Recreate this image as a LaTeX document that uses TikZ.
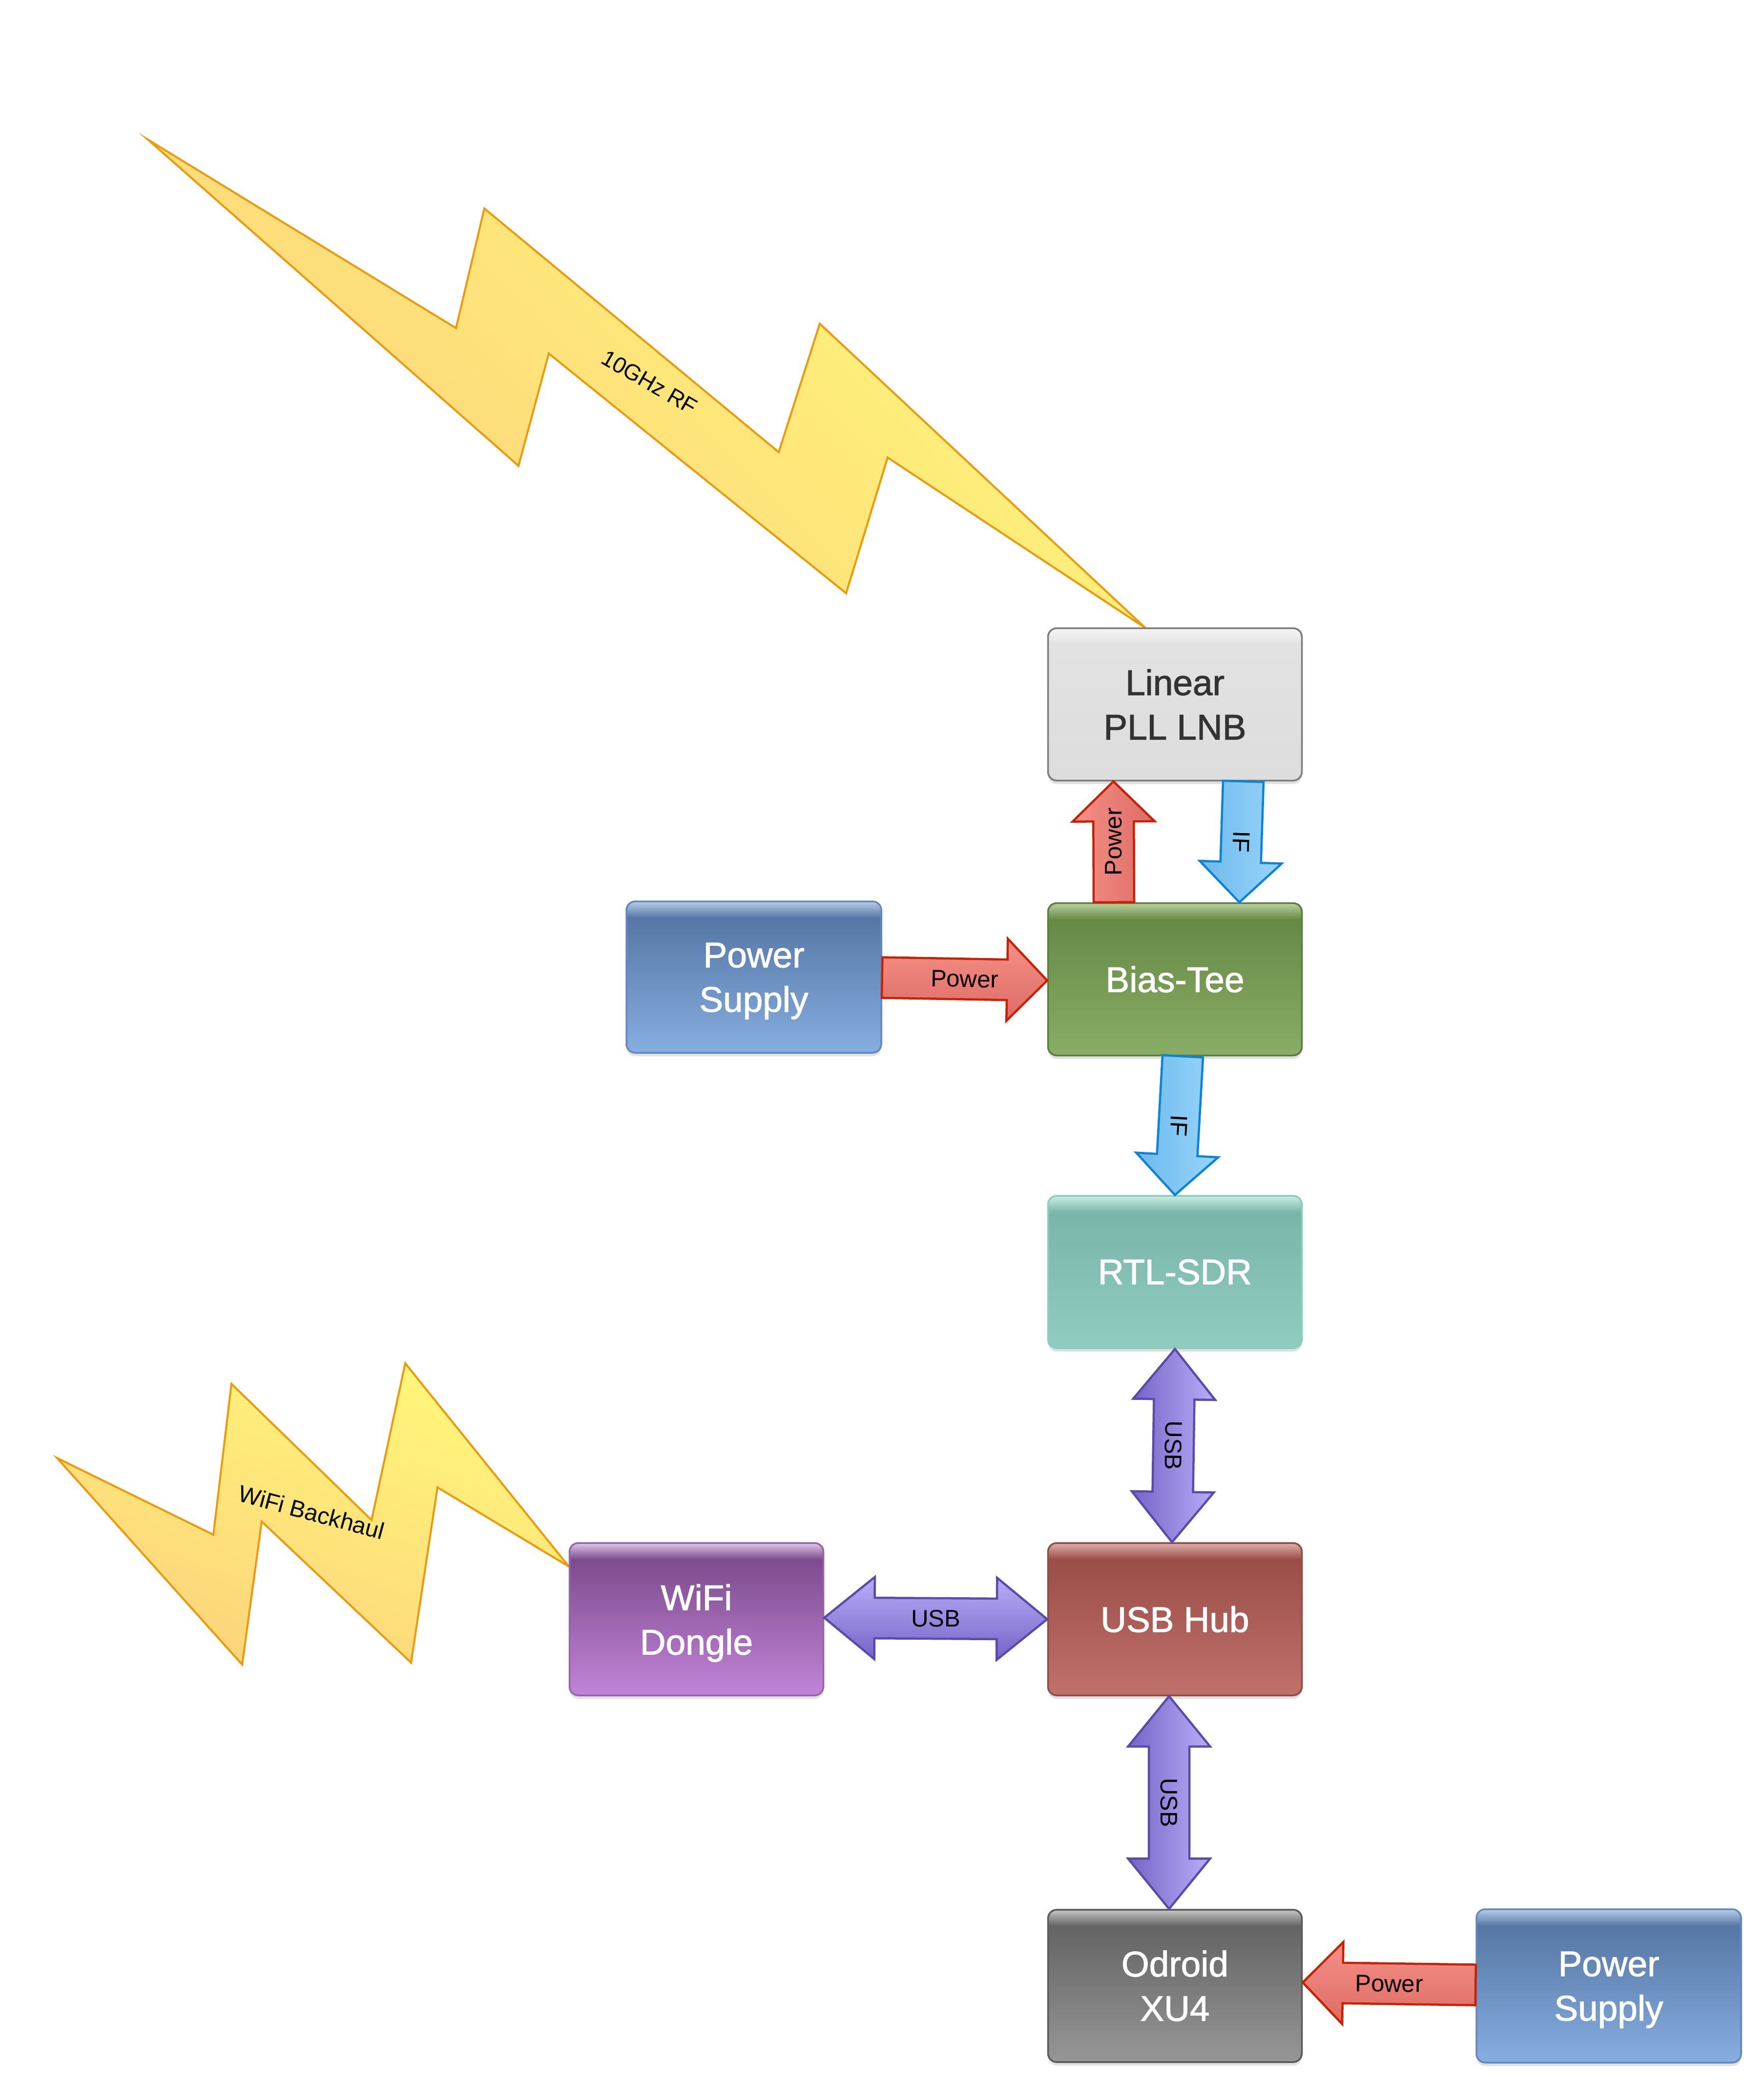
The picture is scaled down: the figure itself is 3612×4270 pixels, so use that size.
\documentclass[tikz,border=0pt]{standalone}
\usepackage{fontspec}
\setmainfont{Liberation Sans}
\newfontfamily\medfam{Liberation Sans}[FakeBold=1.5]
\usetikzlibrary{calc,shadows}

% box colours: bottom, top, gloss, border
\definecolor{lnbB}{HTML}{DDDDDD}\definecolor{lnbT}{HTML}{E2E2E2}\definecolor{lnbG}{HTML}{F5F5F5}\definecolor{lnbD}{HTML}{7B7B7B}\definecolor{lnbX}{HTML}{333333}
\definecolor{biaB}{HTML}{89AD66}\definecolor{biaT}{HTML}{668A45}\definecolor{biaG}{HTML}{BAD2A3}\definecolor{biaD}{HTML}{5C7C40}
\definecolor{psuB}{HTML}{86AEE0}\definecolor{psuT}{HTML}{5677A5}\definecolor{psuG}{HTML}{B9CEE9}\definecolor{psuD}{HTML}{6488BC}
\definecolor{rtlB}{HTML}{90CCBF}\definecolor{rtlT}{HTML}{79B6A9}\definecolor{rtlG}{HTML}{CAEDE4}\definecolor{rtlD}{HTML}{8CCDBD}
\definecolor{hubB}{HTML}{C0716B}\definecolor{hubT}{HTML}{9B4D48}\definecolor{hubG}{HTML}{DFB1A9}\definecolor{hubD}{HTML}{8E4C47}
\definecolor{dngB}{HTML}{C184D7}\definecolor{dngT}{HTML}{7E4C8E}\definecolor{dngG}{HTML}{E1C5EB}\definecolor{dngD}{HTML}{9565A8}
\definecolor{odrB}{HTML}{969696}\definecolor{odrT}{HTML}{646464}\definecolor{odrG}{HTML}{C6C6C6}\definecolor{odrD}{HTML}{5A5A5A}
% arrow colours
\definecolor{pwrD}{HTML}{C52205}\definecolor{pwrL}{HTML}{F69189}\definecolor{pwrK}{HTML}{DC6B63}
\definecolor{ifD}{HTML}{0C84D2}\definecolor{ifK}{HTML}{6CBAED}\definecolor{ifL}{HTML}{99D4F9}
\definecolor{usbD}{HTML}{5B4AA9}\definecolor{usbK}{HTML}{7564C6}\definecolor{usbL}{HTML}{B9ADF8}
% lightning
\definecolor{boltD}{HTML}{EB9A0D}\definecolor{boltL}{HTML}{FFF77A}\definecolor{boltK}{HTML}{FDD37B}

\newcommand{\mkgloss}[4]{\pgfdeclareverticalshading{#1}{100bp}{color(0bp)=(#2); color(25bp)=(#2); color(69.6bp)=(#3); color(75bp)=(#4); color(100bp)=(#4)}}
\mkgloss{glosslnb}{lnbB}{lnbT}{lnbG}
\mkgloss{glossbia}{biaB}{biaT}{biaG}
\mkgloss{glosspsu}{psuB}{psuT}{psuG}
\mkgloss{glossrtl}{rtlB}{rtlT}{rtlG}
\mkgloss{glosshub}{hubB}{hubT}{hubG}
\mkgloss{glossdng}{dngB}{dngT}{dngG}
\mkgloss{glossodr}{odrB}{odrT}{odrG}

\newcommand{\boxfont}{\medfam\fontsize{73}{91}\selectfont}
\newcommand{\arrfont}{\fontsize{49}{59}\selectfont}

% single block arrow: style, from, to
\newcommand{\sarr}[3]{%
  \draw[#1] ($(#2)!41.5pt!90:(#3)$) -- ($(#3)!82pt!(#2)!41.5pt!-90:(#2)$) -- ($(#3)!82pt!(#2)!84pt!-90:(#2)$) -- (#3)
    -- ($(#3)!82pt!(#2)!84pt!90:(#2)$) -- ($(#3)!82pt!(#2)!41.5pt!90:(#2)$) -- ($(#2)!41.5pt!-90:(#3)$) -- cycle;}
% double block arrow: style, from, to
\newcommand{\darr}[3]{%
  \draw[#1] (#2) -- ($(#2)!103pt!(#3)!84pt!90:(#3)$) -- ($(#2)!103pt!(#3)!41.5pt!90:(#3)$)
    -- ($(#3)!103pt!(#2)!41.5pt!-90:(#2)$) -- ($(#3)!103pt!(#2)!84pt!-90:(#2)$) -- (#3)
    -- ($(#3)!103pt!(#2)!84pt!90:(#2)$) -- ($(#3)!103pt!(#2)!41.5pt!90:(#2)$)
    -- ($(#2)!103pt!(#3)!41.5pt!-90:(#3)$) -- ($(#2)!103pt!(#3)!84pt!-90:(#3)$) -- cycle;}

\tikzset{
  box/.style={rectangle, rounded corners=18pt, minimum width=520pt, minimum height=312pt,
    line width=3.5pt, inner sep=0pt, align=center, font=\boxfont, text=white, shade,
    drop shadow={shadow xshift=0pt, shadow yshift=-7pt, fill=black, opacity=0.12}},
  boxtext/.style={font=\boxfont, text=white, align=center, inner sep=0pt},
  pwrarrow/.style={draw=pwrD, line width=4.5pt},
  ifarrow/.style={draw=ifD, line width=4.5pt, left color=ifK, right color=ifL},
  usbarrow/.style={draw=usbD, line width=4.5pt},
  alabel/.style={font=\arrfont, text=black, inner sep=0pt},
  bolt/.style={draw=boltD, line width=4pt, line join=miter, miter limit=30},
}

\begin{document}
\begin{tikzpicture}[x=1pt, y=-1pt, line join=miter]
\fill[white] (0,0) rectangle (3612,4270);
\useasboundingbox (0,0) rectangle (3612,4270);

% lightning bolts
\draw[bolt, top color=boltL, bottom color=boltK, shading angle=-45]
  (303,286) -- (934,672) -- (992,427) -- (1595,926) -- (1679,663) -- (2346,1286)
  -- (1818,937) -- (1733,1215) -- (1124,724) -- (1062,954) -- cycle;
\draw[bolt, top color=boltL, bottom color=boltK, shading angle=-20]
  (117,2986) -- (437,3143) -- (474,2834) -- (761,3113) -- (830,2792) -- (1165,3208)
  -- (896,3046) -- (842,3405) -- (536,3116) -- (496,3409) -- cycle;
\node[rotate=-30, font=\fontsize{46}{55}\selectfont, inner sep=0pt] (rf) at (1330,783) {10GHz RF};
\node[rotate=-15, font=\fontsize{48}{58}\selectfont, inner sep=0pt] (wb) at (638,3097) {WiFi Backhaul};

% boxes
\node[box, shading=glosslnb, draw=lnbD, text=lnbX] (lnb) at (2406.5,1442.5) {Linear\\PLL LNB};
\node[box, shading=glossbia, draw=biaD] (bias) at (2406.5,2005.5) {Bias-Tee};
\node[box, shading=glosspsu, draw=psuD, minimum width=522pt, minimum height=310pt] (ps1) at (1544,2001) {};
\node[box, shading=glossrtl, draw=rtlD] (rtl) at (2406.5,2605) {RTL-SDR};
\node[box, shading=glosshub, draw=hubD] (hub) at (2406.5,3316) {USB Hub};
\node[box, shading=glossdng, draw=dngD] (dongle) at (1426.5,3316) {};
\node[box, shading=glossodr, draw=odrD] (odroid) at (2406.5,4067) {Odroid\\XU4};
\node[box, shading=glosspsu, draw=psuD, minimum width=542pt, minimum height=314pt] (ps2) at (3295,4067) {};

% texts with descenders, lowered to match
\node[boxtext] (ps1label) at ($(ps1.center)+(0,8)$) {Power\\Supply};
\node[boxtext] (dnglabel) at ($(dongle.center)+(0,8)$) {WiFi\\Dongle};
\node[boxtext] (ps2label) at ($(ps2.center)+(0,8)$) {Power\\Supply};

% connector end points
\coordinate (pu1) at ($(bias.north)+(-125,0)$);
\coordinate (pu2) at ($(lnb.south)+(-126,0)$);
\coordinate (if1a) at ($(lnb.south)+(140,0)$);
\coordinate (if1b) at ($(bias.north)+(132,0)$);
\coordinate (pw1a) at ($(ps1.east)+(0,1)$);
\coordinate (pw1b) at ($(bias.west)+(0,2.5)$);
\coordinate (if2a) at ($(bias.south)+(16,0)$);
\coordinate (if2b) at (rtl.north);
\coordinate (u1a) at (rtl.south);
\coordinate (u1b) at ($(hub.north)+(-6,0)$);
\coordinate (u2a) at ($(dongle.east)+(0,-3)$);
\coordinate (u2b) at (hub.west);
\coordinate (u3a) at ($(hub.south)+(-12,0)$);
\coordinate (u3b) at ($(odroid.north)+(-12,0)$);
\coordinate (pw2a) at ($(ps2.west)+(0,-2)$);
\coordinate (pw2b) at ($(odroid.east)+(0,-7)$);

% arrows
\sarr{pwrarrow, left color=pwrL, right color=pwrK}{pu1}{pu2}
\path (pu1) -- (pu2) node[midway, sloped, allow upside down, alabel] {Power};
\sarr{ifarrow}{if1a}{if1b}
\path (if1a) -- (if1b) node[midway, sloped, allow upside down, alabel] {IF};
\sarr{pwrarrow, top color=pwrL, bottom color=pwrK}{pw1a}{pw1b}
\path (pw1a) -- (pw1b) node[midway, sloped, alabel] {Power};
\sarr{ifarrow}{if2a}{if2b}
\path (if2a) -- (if2b) node[midway, sloped, allow upside down, alabel] {IF};
\darr{usbarrow, left color=usbK, right color=usbL}{u1a}{u1b}
\path (u1a) -- (u1b) node[midway, sloped, allow upside down, alabel] {USB};
\darr{usbarrow, top color=usbL, bottom color=usbK}{u2a}{u2b}
\path (u2a) -- (u2b) node[midway, sloped, alabel] {USB};
\darr{usbarrow, left color=usbK, right color=usbL}{u3a}{u3b}
\path (u3a) -- (u3b) node[midway, sloped, allow upside down, alabel] {USB};
\sarr{pwrarrow, top color=pwrL, bottom color=pwrK}{pw2a}{pw2b}
\path (pw2a) -- (pw2b) node[midway, sloped, alabel] {Power};
\end{tikzpicture}
\end{document}
